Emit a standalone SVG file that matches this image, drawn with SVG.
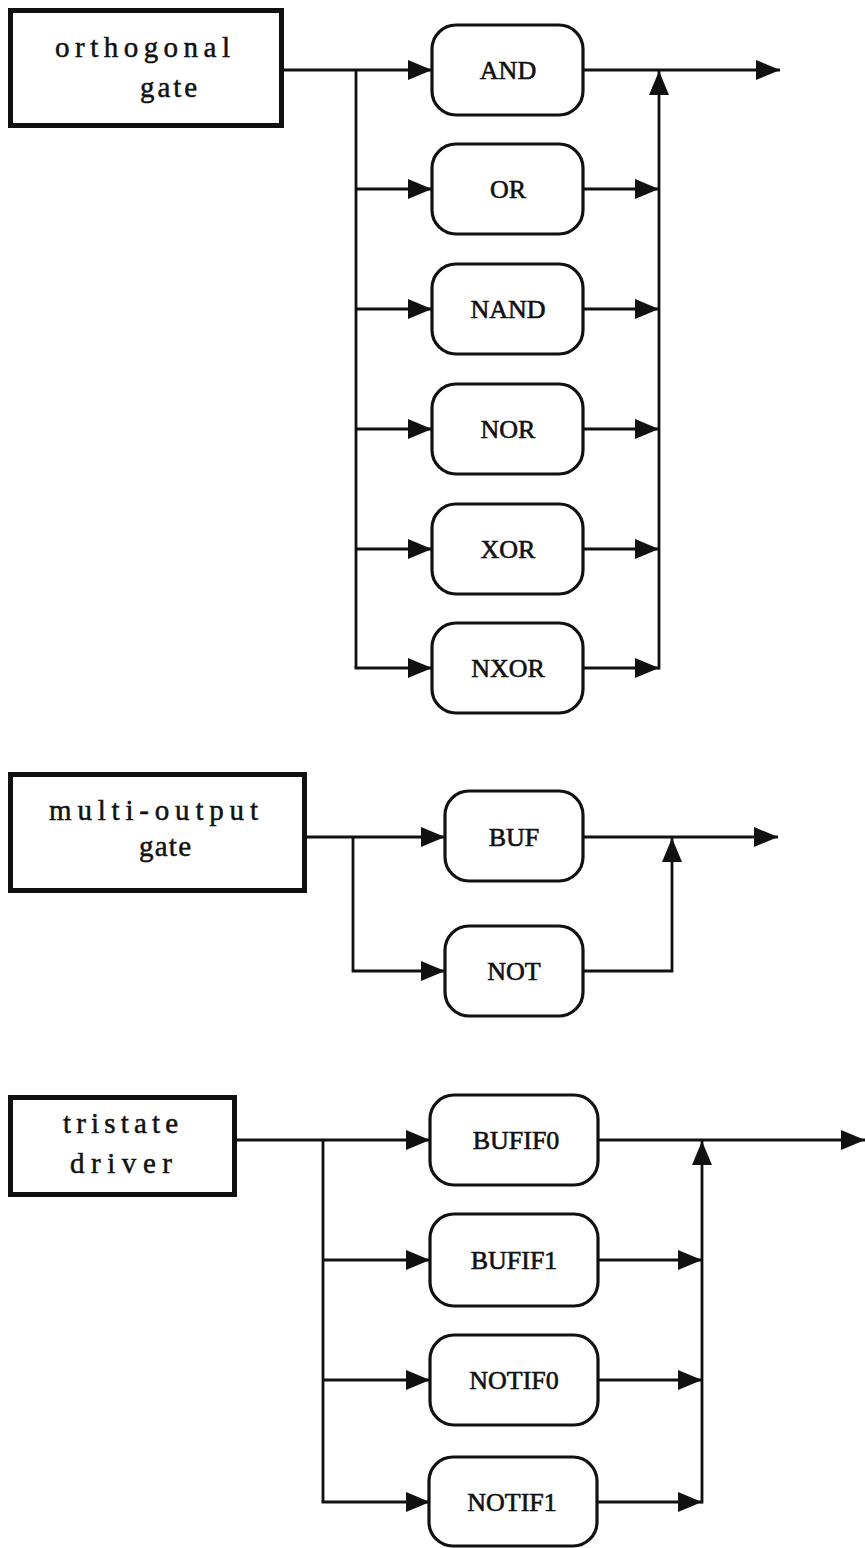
<svg xmlns="http://www.w3.org/2000/svg" width="865" height="1548" viewBox="0 0 865 1548">
<style>
.box{fill:#fff;stroke:#111;stroke-width:5}
.gate{fill:#fff;stroke:#111;stroke-width:3.2}
.lbl{font-family:"Liberation Serif","Times New Roman",serif;font-size:29px;fill:#111;stroke:#111;stroke-width:0.5}
.gl{font-family:"Liberation Serif","Times New Roman",serif;font-size:26px;fill:#111;stroke:#111;stroke-width:0.6;text-anchor:middle}
.w{fill:none;stroke:#111;stroke-width:2.8}
</style>
<defs>
<marker id="ah" markerUnits="userSpaceOnUse" markerWidth="24" markerHeight="20" refX="24" refY="10" orient="auto" viewBox="0 0 24 20">
<path d="M0,0 L24,10 L0,20 Z" fill="#111"/>
</marker>
</defs>
<rect width="865" height="1548" fill="#fff"/>

<g id="connectors">
<path class="w" d="M283,70 H432" marker-end="url(#ah)"/>
<path class="w" d="M356,70 V668"/>
<path class="w" d="M356,189 H432" marker-end="url(#ah)"/>
<path class="w" d="M356,309 H432" marker-end="url(#ah)"/>
<path class="w" d="M356,429 H432" marker-end="url(#ah)"/>
<path class="w" d="M356,549 H432" marker-end="url(#ah)"/>
<path class="w" d="M354.6,668 H432" marker-end="url(#ah)"/>
<path class="w" d="M583,70 H780" marker-end="url(#ah)"/>
<path class="w" d="M583,189 H659" marker-end="url(#ah)"/>
<path class="w" d="M583,309 H659" marker-end="url(#ah)"/>
<path class="w" d="M583,429 H659" marker-end="url(#ah)"/>
<path class="w" d="M583,549 H659" marker-end="url(#ah)"/>
<path class="w" d="M583,668 H659" marker-end="url(#ah)"/>
<path class="w" d="M659,669.4 V71" marker-end="url(#ah)"/>
<path class="w" d="M307,837 H445" marker-end="url(#ah)"/>
<path class="w" d="M353,837 V971 H445" marker-end="url(#ah)"/>
<path class="w" d="M583,837 H778" marker-end="url(#ah)"/>
<path class="w" d="M583,971 H672 V838" marker-end="url(#ah)"/>
<path class="w" d="M237,1140 H430" marker-end="url(#ah)"/>
<path class="w" d="M323,1140 V1502"/>
<path class="w" d="M323,1260 H430" marker-end="url(#ah)"/>
<path class="w" d="M323,1380 H430" marker-end="url(#ah)"/>
<path class="w" d="M321.6,1502 H430" marker-end="url(#ah)"/>
<path class="w" d="M598,1140 H865" marker-end="url(#ah)"/>
<path class="w" d="M598,1260 H702" marker-end="url(#ah)"/>
<path class="w" d="M598,1380 H702" marker-end="url(#ah)"/>
<path class="w" d="M598,1502 H702" marker-end="url(#ah)"/>
<path class="w" d="M702,1503.4 V1141" marker-end="url(#ah)"/>
</g>

<g id="orthogonal-gate">
<rect class="box" x="10.5" y="10.5" width="271" height="115"/>
<text class="lbl" x="55" y="57" textLength="175" lengthAdjust="spacing">orthogonal</text>
<text class="lbl" x="140" y="97" textLength="57" lengthAdjust="spacing">gate</text>
</g>
<g id="and"><rect class="gate" x="432" y="25" width="151" height="90" rx="24"/><text class="gl" x="508" y="79">AND</text></g>
<g id="or"><rect class="gate" x="432" y="144" width="151" height="90" rx="24"/><text class="gl" x="508" y="198">OR</text></g>
<g id="nand"><rect class="gate" x="432" y="264" width="151" height="90" rx="24"/><text class="gl" x="508" y="318">NAND</text></g>
<g id="nor"><rect class="gate" x="432" y="384" width="151" height="90" rx="24"/><text class="gl" x="508" y="438">NOR</text></g>
<g id="xor"><rect class="gate" x="432" y="504" width="151" height="90" rx="24"/><text class="gl" x="508" y="558">XOR</text></g>
<g id="nxor"><rect class="gate" x="432" y="623" width="151" height="90" rx="24"/><text class="gl" x="508" y="677">NXOR</text></g>

<g id="multi-output-gate">
<rect class="box" x="10.5" y="774.5" width="294" height="116"/>
<text class="lbl" x="49" y="820" textLength="209" lengthAdjust="spacing">multi-output</text>
<text class="lbl" x="139" y="856" textLength="52" lengthAdjust="spacing">gate</text>
</g>
<g id="buf"><rect class="gate" x="445" y="791" width="138" height="90" rx="24"/><text class="gl" x="514" y="846">BUF</text></g>
<g id="not"><rect class="gate" x="445" y="926" width="138" height="90" rx="24"/><text class="gl" x="514" y="980">NOT</text></g>

<g id="tristate-driver">
<rect class="box" x="10.5" y="1097.5" width="224" height="97"/>
<text class="lbl" x="63" y="1133" textLength="115" lengthAdjust="spacing">tristate</text>
<text class="lbl" x="70" y="1173" textLength="102" lengthAdjust="spacing">driver</text>
</g>
<g id="bufif0"><rect class="gate" x="430" y="1095" width="168" height="90" rx="24"/><text class="gl" x="516" y="1149">BUFIF0</text></g>
<g id="bufif1"><rect class="gate" x="430" y="1214" width="168" height="92" rx="24"/><text class="gl" x="514" y="1269">BUFIF1</text></g>
<g id="notif0"><rect class="gate" x="430" y="1335" width="168" height="90" rx="24"/><text class="gl" x="514" y="1389">NOTIF0</text></g>
<g id="notif1"><rect class="gate" x="429" y="1457" width="168" height="89" rx="24"/><text class="gl" x="512" y="1511">NOTIF1</text></g>
</svg>
